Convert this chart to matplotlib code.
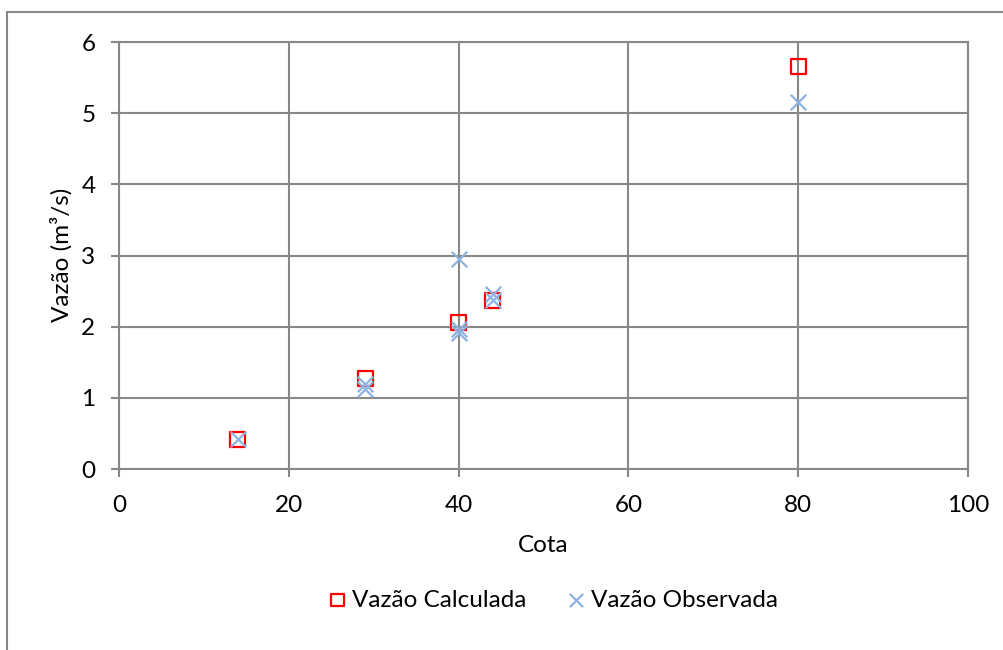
import matplotlib.pyplot as plt
from matplotlib.patches import Rectangle

plt.rcParams['font.family'] = ['Lato', 'DejaVu Sans']

# vazao calculada (curva-chave)
cota_calc = [14, 29, 40, 44, 80]
vazao_calc = [0.42, 1.27, 2.06, 2.37, 5.65]

# vazao observada (medicoes)
cota_obs = [14, 29, 29, 40, 40, 40, 44, 44, 80]
vazao_obs = [0.42, 1.20, 1.12, 2.95, 1.97, 1.91, 2.46, 2.38, 5.16]

grid_col = '#888888'
fs = 17.5

fig = plt.figure(figsize=(10.04, 6.5), dpi=100)
fig.patches.append(Rectangle((7 / 1004, -0.1), 1.2, 1 - 12 / 650 + 0.1,
                             transform=fig.transFigure, fill=False,
                             edgecolor='#888888', linewidth=1.5))

ax = fig.add_axes([119 / 1004, 1 - 469 / 650, 849 / 1004, 427 / 650])

ax.scatter(cota_calc, vazao_calc, marker='s', s=115, facecolors='none',
           edgecolors='#ff0000', linewidths=1.6, label='Vazão Calculada', zorder=3)
ax.scatter(cota_obs, vazao_obs, marker='x', s=125, color='#8db3e2',
           linewidths=1.6, label='Vazão Observada', zorder=4)

ax.set_xlim(0, 100)
ax.set_ylim(0, 6)
ax.set_xticks(range(0, 101, 20))
ax.set_yticks(range(0, 7))
ax.grid(True, color=grid_col, linewidth=1.5)
ax.set_axisbelow(True)
for s in ax.spines.values():
    s.set_color(grid_col)
    s.set_linewidth(1.5)
ax.tick_params(direction='out', length=6, width=1.5, color=grid_col,
               labelsize=fs)
ax.tick_params(axis='x', pad=13)
ax.tick_params(axis='y', pad=11)

ax.set_xlabel('Cota', fontsize=fs)
ax.set_ylabel('Vazão (m³/s)', fontsize=fs)
ax.xaxis.set_label_coords(543 / 1004, 1 - 545 / 650, transform=fig.transFigure)
ax.yaxis.set_label_coords(61 / 1004, 1 - 255 / 650, transform=fig.transFigure)
ax.xaxis.label.set_va('center')
ax.yaxis.label.set_va('center')

ax.legend(loc='center', bbox_to_anchor=(552 / 1004, 1 - 600 / 650),
          bbox_transform=fig.transFigure, ncol=2, frameon=False,
          fontsize=fs, handletextpad=0.15, handlelength=0.9,
          columnspacing=1.6, markerscale=0.85)

fig.savefig('out.png', dpi=100)
